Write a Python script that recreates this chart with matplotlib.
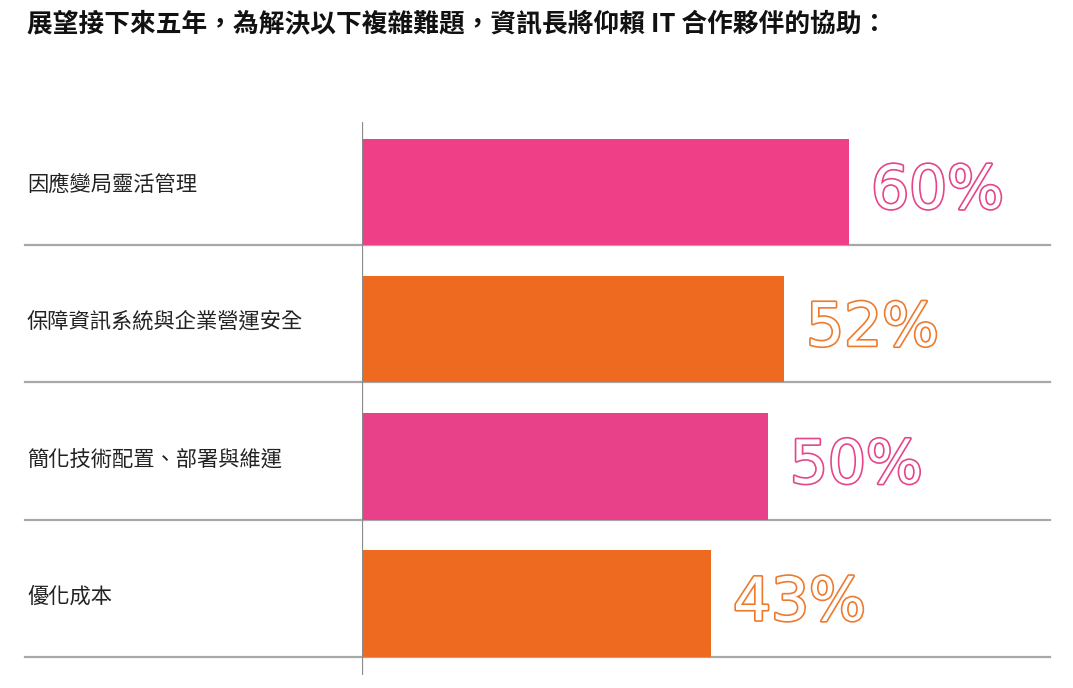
import matplotlib.pyplot as plt
import matplotlib.patheffects as pe
import matplotlib.transforms as mtransforms

plt.rcParams['font.family'] = ['Noto Sans CJK TC', 'DejaVu Sans']

title = '展望接下來五年，為解決以下複雜難題，資訊長將仰賴 IT 合作夥伴的協助：'
categories = ['因應變局靈活管理', '保障資訊系統與企業營運安全', '簡化技術配置、部署與維運', '優化成本']
values = [60, 52, 50, 43]
colors = ['#EE3F87', '#EE6A20', '#E8418A', '#EE6A20']
text_colors = ['#E5468A', '#EE7A2E', '#E5468A', '#EE7A2E']

W, H = 1073, 688
fig = plt.figure(figsize=(W / 100, H / 100), dpi=100)

# axes box: vertical line runs from y=122 to y=675 px, x from 362 to 1050 px
ax = fig.add_axes([362 / W, 1 - 675 / H, (1050 - 362) / W, (675 - 122) / H])
row = 137.3
ax.set_xlim(0, (1050 - 362) / 8.12)
ax.set_ylim((675 - 245) / row, (122 - 245) / row)

bar_h = 0.775
for i, (v, c) in enumerate(zip(values, colors)):
    ax.barh(i - bar_h / 2, v, height=bar_h, color=c, zorder=2)
    ax.text(v + 2.7, i - bar_h / 2, f'{v}%', fontsize=43, family='DejaVu Sans',
            color='white', va='center', ha='left', zorder=3,
            path_effects=[pe.Stroke(linewidth=2.4, foreground=text_colors[i]), pe.Normal()])

# separator lines across the full width, category labels at the left
trans = mtransforms.blended_transform_factory(fig.transFigure, ax.transData)
for i, name in enumerate(categories):
    ax.plot([25 / W, 1050 / W], [i, i], transform=trans, color='#A8A8A8',
            lw=1.6, clip_on=False, zorder=1)
    ax.text(27 / W, i - 0.44, name, transform=trans, fontsize=15.3,
            color='#222222', va='center', ha='left', clip_on=False)

ax.axvline(0, color='#8A8A8A', lw=1.6, zorder=4)
for s in ax.spines.values():
    s.set_visible(False)
ax.set_xticks([])
ax.set_yticks([])

fig.text(27 / W, 1 - 25 / H, title, fontsize=18.5, fontweight='bold',
         color='#111111', va='center', ha='left')

fig.savefig('out.png', dpi=100)
